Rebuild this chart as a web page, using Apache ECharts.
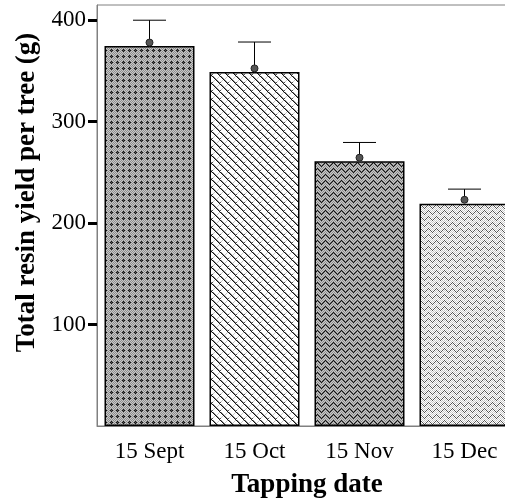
<!DOCTYPE html>
<html><head><meta charset="utf-8">
<script src="https://cdn.jsdelivr.net/npm/echarts@6/dist/echarts.min.js"></script>
<style>html,body{margin:0;padding:0;background:#fff}#c{width:505px;height:501px}</style>
</head><body><div id="c"></div>
<script>
var categories = ['15 Sept', '15 Oct', '15 Nov', '15 Dec'];
var barValues = [374.5, 349, 261, 219];
var meanValues = [378, 352.5, 264.5, 223];
var upperValues = [400, 378.5, 279.5, 233.5];
var yTicks = [100, 200, 300, 400];

var PAL = {k:'#111111', d:'#555555', g:'#8c8c8c', l:'#c8c8c8', w:'#ffffff'};
function makePattern(rows){
  var h = rows.length, w = rows[0].length;
  var c = document.createElement('canvas'); c.width = w; c.height = h;
  var ctx = c.getContext('2d');
  for (var y=0;y<h;y++) for (var x=0;x<w;x++){ ctx.fillStyle = PAL[rows[y][x]]; ctx.fillRect(x,y,1,1); }
  return {image: c, repeat: 'repeat'};
}
var patterns = [
  makePattern([
    'lglglg',
    'glgkgl',
    'lgkdkg',
    'glgkgl',
    'lglglg',
    'glglgl'
  ]),
  makePattern([
    'kgwwwwlw',
    'wkgwwlww',
    'wwkgdwww',
    'wwwkwwww',
    'wwwlkgww',
    'wwlwwkgw',
    'wlwwwwkg',
    'gwwwwwwk'
  ]),
  makePattern([
    'glglgkgl',
    'lglgkgkg',
    'glgkglgk',
    'kgkglglg',
    'gkglglgl',
    'lglglglg'
  ]),
  makePattern([
    'lwlwdwlw',
    'wlwdwdwl',
    'lwdwlwdw',
    'wdwlwlwd',
    'dwlwlwlw',
    'wlwlwlwl'
  ])
];

var chart = echarts.init(document.getElementById('c'));
var serif = '"Liberation Serif", "Times New Roman", serif';
chart.setOption({
  animation: false,
  grid: {left: 97, top: 5, width: 420, bottom: 75, outerBoundsMode: 'none', containLabel: false,
         show: true, borderColor: '#808080', borderWidth: 1, backgroundColor: 'transparent'},
  xAxis: {
    type: 'category', data: categories,
    name: 'Tapping date', nameLocation: 'middle', nameGap: 46,
    nameTextStyle: {fontFamily: serif, fontSize: 27, fontWeight: 'bold', color: '#000'},
    axisLine: {lineStyle: {color: '#808080', width: 1}},
    axisTick: {alignWithLabel: true, length: 8, lineStyle: {color: '#000', width: 3}},
    axisLabel: {fontFamily: serif, fontSize: 23, color: '#000', margin: 14, hideOverlap: false}
  },
  yAxis: {
    type: 'value', min: 0, max: 415,
    name: 'Total resin yield per tree (g)', nameLocation: 'middle', nameGap: 55, nameRotate: 90,
    nameTextStyle: {fontFamily: serif, fontSize: 27, fontWeight: 'bold', color: '#000', padding: [0, 0, 0, 46]},
    axisLine: {show: true, lineStyle: {color: '#808080', width: 1}},
    axisTick: {show: true, length: 9, customValues: yTicks, lineStyle: {color: '#000', width: 3}},
    axisLabel: {fontFamily: serif, fontSize: 23, color: '#000', margin: 11, customValues: yTicks},
    splitLine: {show: false}
  },
  series: [
    {
      type: 'bar', barWidth: 90,
      data: barValues.map(function(v,i){ return {value: v, itemStyle: {color: patterns[i]}}; }),
      itemStyle: {borderColor: '#000', borderWidth: 1.5}
    },
    {
      type: 'custom', z: 5,
      data: meanValues.map(function(m,i){ return [i, m, upperValues[i]]; }),
      renderItem: function(params, api){
        var p = api.coord([api.value(0), api.value(1)]);
        var t = api.coord([api.value(0), api.value(2)]);
        var hw = 16.5;
        return {type: 'group', children: [
          {type: 'line', shape: {x1: p[0], y1: p[1], x2: t[0], y2: t[1]}, style: {stroke: '#000', lineWidth: 1}},
          {type: 'line', shape: {x1: t[0]-hw, y1: t[1], x2: t[0]+hw, y2: t[1]}, style: {stroke: '#000', lineWidth: 1}},
          {type: 'circle', shape: {cx: p[0], cy: p[1], r: 3.5}, style: {fill: '#555', stroke: '#222', lineWidth: 1}}
        ]};
      }
    }
  ]
});
</script></body></html>
